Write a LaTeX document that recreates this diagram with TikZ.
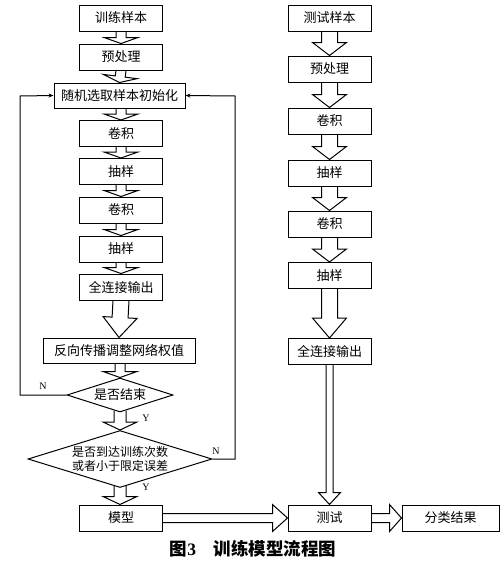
\documentclass[tikz,border=0pt]{standalone}
\usepackage{fontspec}
\setmainfont{Liberation Serif}
\newfontfamily\cjk{Noto Sans CJK SC}
\usepackage{tikz}
\usetikzlibrary{arrows.meta,calc,shapes.geometric}

% hollow block arrow: start, end, shaft half width, head half width, head length
\newcommand{\fatarrow}[5]{%
  \path (#1) coordinate (fa-s) (#2) coordinate (fa-e);
  \coordinate (fa-h) at ($(fa-e)!#5!(fa-s)$);
  \draw[fat] ($(fa-s)!#3!90:(fa-e)$) -- ($(fa-h)!#3!-90:(fa-s)$) -- ($(fa-h)!#4!-90:(fa-s)$)
    -- (fa-e) -- ($(fa-h)!#4!90:(fa-s)$) -- ($(fa-h)!#3!90:(fa-s)$) -- ($(fa-s)!#3!-90:(fa-e)$);
}

\tikzset{
  stage/.style={draw,line width=1pt,minimum width=83pt,minimum height=26pt,inner sep=0pt,
    font=\cjk\fontsize{13}{15}\selectfont},
  widebox/.style={stage,minimum width=#1},
  decide/.style={draw,line width=1pt,diamond,aspect=3.2,inner sep=0pt,align=center,
    font=\cjk\fontsize{13}{15}\selectfont},
  fat/.style={line width=1pt,line join=miter},
  loopline/.style={line width=1pt,-{Stealth[length=5pt,width=4pt]}},
  yn/.style={font=\fontsize{10}{12}\selectfont}
}

\begin{document}
\begin{tikzpicture}[x=1pt,y=-1pt]
  \useasboundingbox (0,0) rectangle (500,562);
  % training column
  \node[stage] (tr1) at (121,18) {训练样本};
  \node[stage] (tr2) at (121,57) {预处理};
  \node[widebox=131pt,minimum height=25pt] (tr3) at (119.5,95.5) {随机选取样本初始化};
  \node[stage] (tr4) at (121,133.5) {卷积};
  \node[stage] (tr5) at (121,171.5) {抽样};
  \node[stage] (tr6) at (121,210) {卷积};
  \node[stage] (tr7) at (121,249) {抽样};
  \node[stage] (tr8) at (121,287) {全连接输出};
  \node[widebox=152pt,minimum height=25pt] (tr9) at (119,350.5) {反向传播调整网络权值};
  \node[decide,minimum width=106pt,minimum height=34pt] (d1) at (120,395) {是否结束};
  \node[decide,minimum width=184pt,minimum height=57pt,font=\cjk\fontsize{12}{14}\selectfont]
    (d2) at (120,459) {是否到达训练次数\\或者小于限定误差};
  \node[stage] (model) at (121,518) {模型};
  % testing column
  \node[stage] (te1) at (329.5,18) {测试样本};
  \node[stage] (te2) at (329.5,69) {预处理};
  \node[stage] (te3) at (329.5,121) {卷积};
  \node[stage] (te4) at (329.5,173) {抽样};
  \node[stage] (te5) at (329.5,224) {卷积};
  \node[stage] (te6) at (329.5,275.5) {抽样};
  \node[stage] (te7) at (329.5,351.5) {全连接输出};
  \node[stage] (test) at (329.5,518) {测试};
  \node[widebox=97pt] (res) at (450.5,518) {分类结果};

  % block arrows, training
  \fatarrow{tr1.south}{tr2.north}{5pt}{17pt}{6pt}
  \fatarrow{tr2.south}{tr3.north}{5pt}{17pt}{6pt}
  \fatarrow{tr3.south -| tr4.north}{tr4.north}{5pt}{17pt}{6pt}
  \fatarrow{tr4.south}{tr5.north}{5pt}{17pt}{6pt}
  \fatarrow{tr5.south}{tr6.north}{5pt}{17pt}{6pt}
  \fatarrow{tr6.south}{tr7.north}{5pt}{17pt}{6pt}
  \fatarrow{tr7.south}{tr8.north}{5pt}{17pt}{6pt}
  \fatarrow{tr8.south}{tr9.south |- tr9.north}{8pt}{17pt}{20pt}
  \fatarrow{tr9.south -| d1.north}{d1.north}{5pt}{17pt}{6pt}
  \fatarrow{$(d1.south)+(0,-2)$}{d2.north}{6pt}{17pt}{8pt}
  \fatarrow{$(d2.south)+(0,-2)$}{model.north -| d2.south}{6pt}{17pt}{8pt}
  % block arrows, testing
  \fatarrow{te1.south}{te2.north}{8pt}{17pt}{13pt}
  \fatarrow{te2.south}{te3.north}{8pt}{17pt}{13pt}
  \fatarrow{te3.south}{te4.north}{8pt}{17pt}{13pt}
  \fatarrow{te4.south}{te5.north}{8pt}{17pt}{13pt}
  \fatarrow{te5.south}{te6.north}{8pt}{17pt}{13pt}
  \fatarrow{te6.south}{te7.north}{8pt}{17pt}{20pt}
  \fatarrow{te7.south}{test.north}{3.5pt}{11pt}{12pt}
  \fatarrow{model.east}{test.west}{4.5pt}{13.5pt}{15pt}
  \fatarrow{test.east}{res.west}{4.5pt}{13.5pt}{12pt}

  % feedback loops
  \coordinate (lx) at (20,96);
  \coordinate (rx) at (235,96);
  \draw[loopline] (d1.west) -| (lx) -- (tr3.west);
  \draw[loopline] (d2.east) -| (rx) -- (tr3.east);
  \node[yn] (n1) at (43,386) {N};
  \node[yn] (y1) at (146,418) {Y};
  \node[yn] (n2) at (216,451) {N};
  \node[yn] (y2) at (146,487) {Y};

  \node[font=\cjk\bfseries\fontsize{17.5}{20}\selectfont] (cap) at (253,549)
    {图{\rmfamily\bfseries 3}\quad 训练模型流程图};
\end{tikzpicture}
\end{document}
